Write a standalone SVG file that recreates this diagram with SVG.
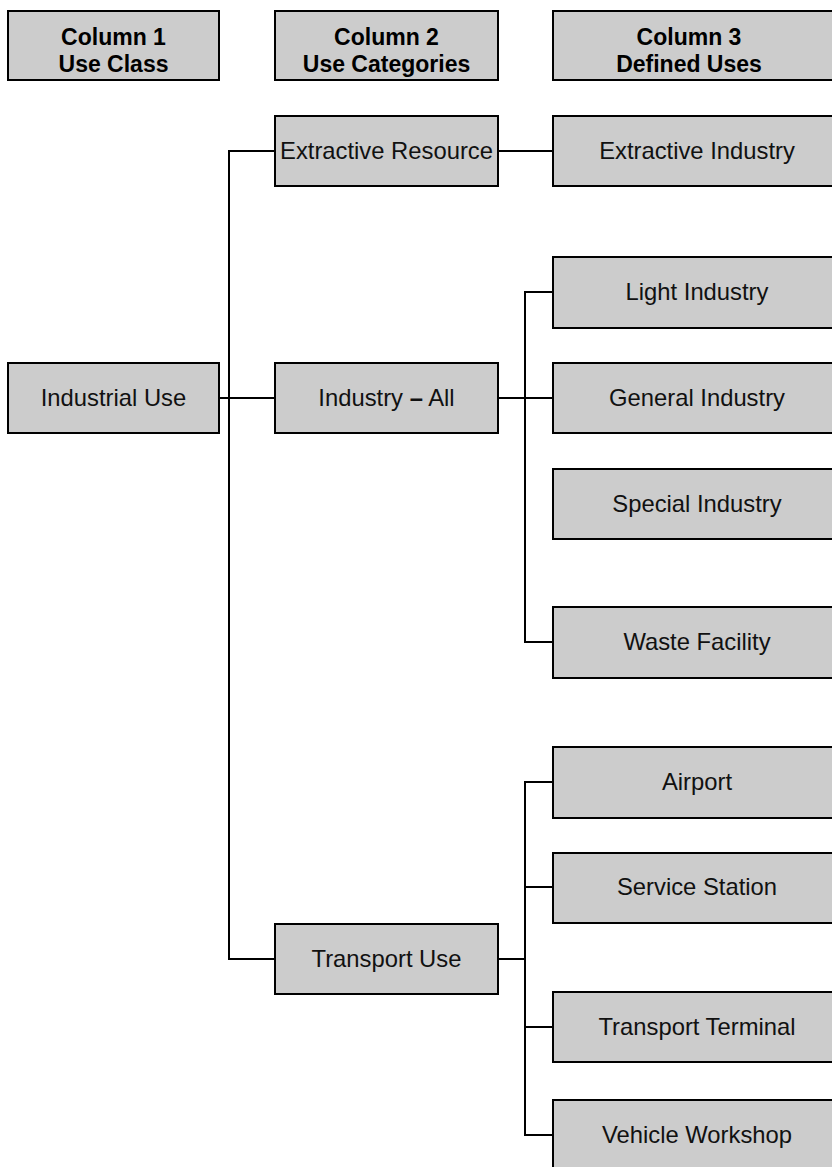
<svg xmlns="http://www.w3.org/2000/svg" width="832" height="1167" viewBox="0 0 832 1167">
  <style>
    .box { fill: #cccccc; stroke: #000000; stroke-width: 2; }
    .hd { font-family: "Liberation Sans", Arial, sans-serif; font-size: 23px; font-weight: bold; fill: #000000; text-anchor: middle; }
    .lb { font-family: "Liberation Sans", Arial, sans-serif; font-size: 23.8px; fill: #111111; text-anchor: middle; }
    .dash { font-weight: bold; }
    .conn { fill: none; stroke: #000000; stroke-width: 2; }
  </style>
  <rect width="832" height="1167" fill="#ffffff"/>

  <!-- connectors -->
  <g id="connectors" class="conn">
    <!-- Industrial Use to categories -->
    <path d="M275 151 H229 V959 H275"/>
    <path d="M219 398 H275"/>
    <!-- Extractive Resource to Extractive Industry -->
    <path d="M498 151 H553"/>
    <!-- Industry – All to defined uses -->
    <path d="M498 398 H553"/>
    <path d="M553 292 H525 V642 H553"/>
    <!-- Transport Use to defined uses -->
    <path d="M498 959 H525"/>
    <path d="M553 782 H525 V1135 H553"/>
    <path d="M525 887 H553"/>
    <path d="M525 1027 H553"/>
  </g>

  <!-- column headings -->
  <g id="head-col1">
    <rect class="box" x="8" y="11" width="211" height="69"/>
    <text class="hd" x="113.5" y="45">Column 1</text>
    <text class="hd" x="113.5" y="72">Use Class</text>
  </g>
  <g id="head-col2">
    <rect class="box" x="275" y="11" width="223" height="69"/>
    <text class="hd" x="386.5" y="45">Column 2</text>
    <text class="hd" x="386.5" y="72">Use Categories</text>
  </g>
  <g id="head-col3">
    <rect class="box" x="553" y="11" width="300" height="69"/>
    <text class="hd" x="689" y="45">Column 3</text>
    <text class="hd" x="689" y="72">Defined Uses</text>
  </g>

  <!-- column 1 -->
  <g id="industrial-use">
    <rect class="box" x="8" y="363" width="211" height="70"/>
    <text class="lb" x="113.5" y="406">Industrial Use</text>
  </g>

  <!-- column 2 -->
  <g id="extractive-resource">
    <rect class="box" x="275" y="116" width="223" height="70"/>
    <text class="lb" x="386.5" y="159">Extractive Resource</text>
  </g>
  <g id="industry-all">
    <rect class="box" x="275" y="363" width="223" height="70"/>
    <text class="lb" x="386.5" y="406">Industry <tspan class="dash">–</tspan> All</text>
  </g>
  <g id="transport-use">
    <rect class="box" x="275" y="924" width="223" height="70"/>
    <text class="lb" x="386.5" y="967">Transport Use</text>
  </g>

  <!-- column 3 -->
  <g id="extractive-industry">
    <rect class="box" x="553" y="116" width="300" height="70"/>
    <text class="lb" x="697" y="159">Extractive Industry</text>
  </g>
  <g id="light-industry">
    <rect class="box" x="553" y="257" width="300" height="71"/>
    <text class="lb" x="697" y="300">Light Industry</text>
  </g>
  <g id="general-industry">
    <rect class="box" x="553" y="363" width="300" height="70"/>
    <text class="lb" x="697" y="406">General Industry</text>
  </g>
  <g id="special-industry">
    <rect class="box" x="553" y="469" width="300" height="70"/>
    <text class="lb" x="697" y="512">Special Industry</text>
  </g>
  <g id="waste-facility">
    <rect class="box" x="553" y="607" width="300" height="71"/>
    <text class="lb" x="697" y="650">Waste Facility</text>
  </g>
  <g id="airport">
    <rect class="box" x="553" y="747" width="300" height="71"/>
    <text class="lb" x="697" y="790">Airport</text>
  </g>
  <g id="service-station">
    <rect class="box" x="553" y="853" width="300" height="70"/>
    <text class="lb" x="697" y="895">Service Station</text>
  </g>
  <g id="transport-terminal">
    <rect class="box" x="553" y="992" width="300" height="70"/>
    <text class="lb" x="697" y="1035">Transport Terminal</text>
  </g>
  <g id="vehicle-workshop">
    <rect class="box" x="553" y="1100" width="300" height="100"/>
    <text class="lb" x="697" y="1143">Vehicle Workshop</text>
  </g>
</svg>
